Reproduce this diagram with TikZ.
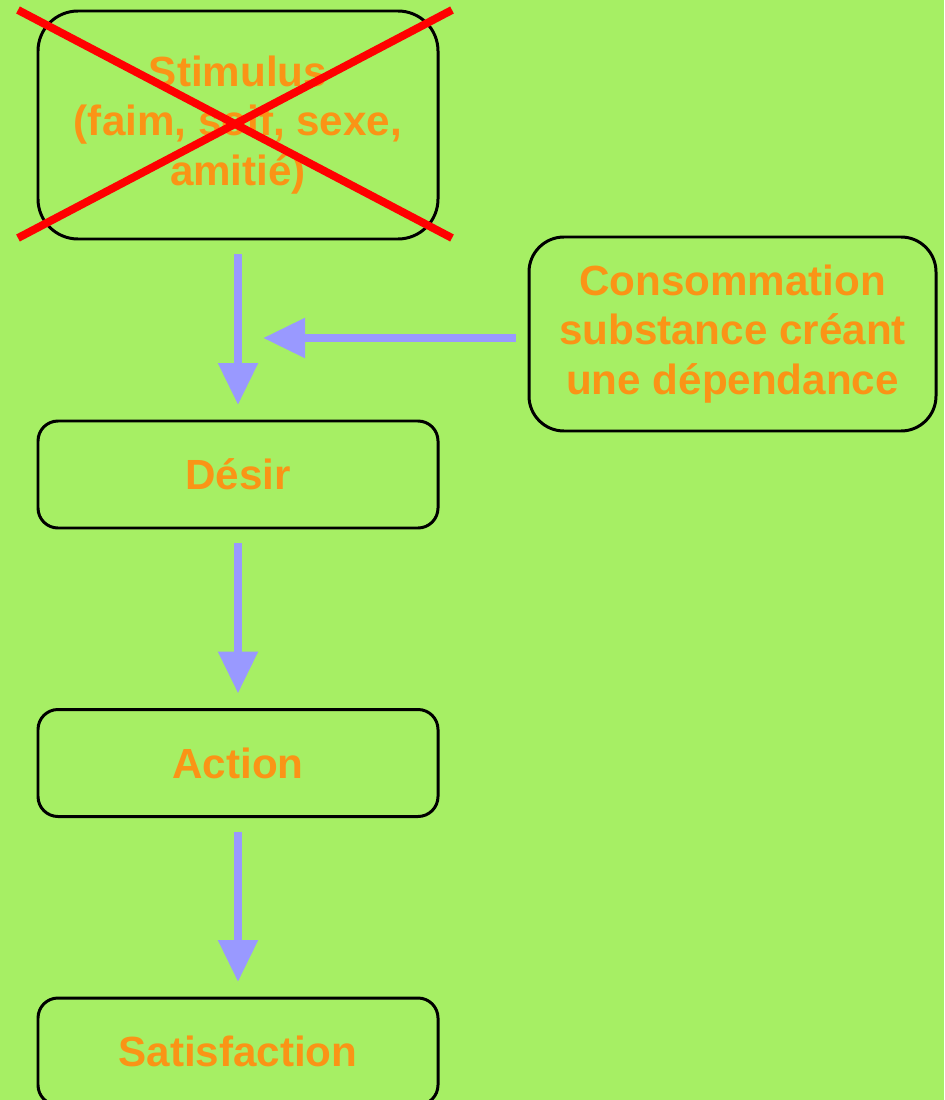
\documentclass[tikz,border=0pt]{standalone}
\usepackage{fontspec}
\setmainfont{Liberation Sans}
\usepackage{tikz}
\usetikzlibrary {arrows.meta}
\definecolor{bggreen}{RGB}{166,239,100}
\definecolor{txtorange}{RGB}{250,148,22}
\definecolor{arrowblue}{RGB}{153,153,255}

\begin{document}
\begin{tikzpicture}[
	box/.style={draw,line width=1.7pt,rectangle,rounded corners=0.4cm,minimum width=8cm,minimum height=2.14cm,outer sep=0pt,align=center,text=txtorange,font=\fontsize{24}{28}\selectfont\bfseries},
	flow/.style={-{Triangle[length=0.84cm,width=0.76cm]},line width=4.8pt,draw=arrowblue,fill=arrowblue},
	cross/.style={red,line width=4.5pt}]
	\fill[bggreen] (0,0) rectangle (18.88,-22);
	\useasboundingbox (0,0) rectangle (18.88,-22);
	\clip (0,0) rectangle (18.88,-22);
	\node[box,rounded corners=0.8cm,minimum height=4.56cm] (stim) at (4.76,-2.5) {Stimulus \\ (faim, soif, sexe, \\ amitié)};
	\node[box,rounded corners=0.7cm,minimum width=8.14cm,minimum height=3.88cm] (conso) at (14.65,-6.68) {Consommation \\ substance créant \\ une dépendance};
	\node[box] (desir) at (4.76,-9.49) {Désir};
	\node[box] (action) at (4.76,-15.26) {Action};
	\node[box] (satis) at (4.76,-21.03) {Satisfaction};
	\coordinate (join) at (5.26,-6.76);
	\draw[cross] ([xshift=-0.4cm,yshift=0.02cm]stim.north west) -- ([xshift=0.28cm,yshift=0.02cm]stim.south east);
	\draw[cross] ([xshift=-0.4cm,yshift=0.02cm]stim.south west) -- ([xshift=0.28cm,yshift=0.02cm]stim.north east);
	\draw[flow,shorten <=0.3cm,shorten >=0.32cm] (stim) -- (desir);
	\draw[flow,shorten <=0.26cm] (join -| conso.west) -- (join);
	\draw[flow,shorten <=0.3cm,shorten >=0.32cm] (desir) -- (action);
	\draw[flow,shorten <=0.3cm,shorten >=0.32cm] (action) -- (satis);
\end{tikzpicture}
\end{document}
